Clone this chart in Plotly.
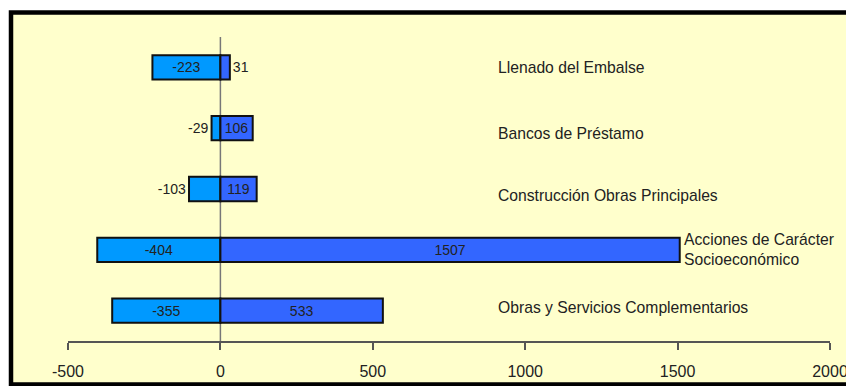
import plotly.graph_objects as go

# Project components (top to bottom) and their negative / positive impact values
categories = [
    "Llenado del Embalse",
    "Bancos de Préstamo",
    "Construcción Obras Principales",
    "Acciones de Carácter<br>Socioeconómico",
    "Obras y Servicios Complementarios",
]
negative = [-223, -29, -103, -404, -355]
positive = [31, 106, 119, 1507, 533]

tick_values = [-500, 0, 500, 1000, 1500, 2000]
tick_labels = ["-500", "0", "500", "1000", "1500", "2000"]

neg_textpos = ["inside", "outside", "outside", "inside", "inside"]
pos_textpos = ["outside", "inside", "inside", "inside", "inside"]
label_shift = [0, -5, -6, 0, 3]

FONT = "Liberation Sans, Arial, sans-serif"
W, H = 846, 386
ML, MR, MT, MB = 68, 16, 37, 45
PW, PH = W - ML - MR, H - MT - MB


def px_x(px):
    return (px - ML) / PW


def px_y(py):
    return (H - MB - py) / PH


fig = go.Figure()
fig.add_trace(go.Bar(
    y=categories, x=negative, orientation="h",
    marker=dict(color="#0099FF", line=dict(color="#111111", width=2)),
    text=[str(v) for v in negative], textposition=neg_textpos,
    insidetextanchor="middle", constraintext="none", cliponaxis=False,
    textfont=dict(family=FONT, size=14, color="#222222"),
    hoverinfo="x+y",
))
fig.add_trace(go.Bar(
    y=categories, x=positive, orientation="h",
    marker=dict(color="#3366FF", line=dict(color="#111111", width=2)),
    text=[str(v) for v in positive], textposition=pos_textpos,
    insidetextanchor="middle", constraintext="none", cliponaxis=False,
    textfont=dict(family=FONT, size=14, color="#222222"),
    hoverinfo="x+y",
))

# Category names written to the right of the bars
annotations = []
for i, cat in enumerate(categories):
    if "<br>" in cat:
        annotations.append(dict(x=positive[i], y=cat, text=cat, showarrow=False,
                                xanchor="left", xshift=2, align="left",
                                font=dict(family=FONT, size=15.7, color="#222222")))
    else:
        annotations.append(dict(x=905, y=cat, text=cat, showarrow=False,
                                xanchor="left", yshift=label_shift[i],
                                font=dict(family=FONT, size=15.7, color="#222222")))

# Yellow panel with a heavy black frame
shapes = [
    dict(type="rect", xref="paper", yref="paper", layer="below",
         x0=px_x(11), x1=px_x(870), y0=px_y(384.5), y1=px_y(12.5),
         fillcolor="#FFFFCC", line=dict(color="#000000", width=4.5)),
    dict(type="line", xref="x", yref="paper", x0=0, x1=0, y0=0, y1=1,
         line=dict(color="#777777", width=1.5), layer="below"),
]

fig.update_layout(
    width=W, height=H,
    margin=dict(l=ML, r=MR, t=MT, b=MB, autoexpand=False),
    paper_bgcolor="#FFFFFF", plot_bgcolor="rgba(0,0,0,0)",
    barmode="relative", bargap=0.6, showlegend=False,
    font=dict(family=FONT, size=15, color="#222222"),
    annotations=annotations, shapes=shapes,
    xaxis=dict(range=[-500, 2000], tickvals=tick_values, ticktext=tick_labels,
               ticklabeloverflow="allow", automargin=False, ticklabelstandoff=8,
               showgrid=False, zeroline=False, showline=True, linecolor="#555555",
               linewidth=1.5, ticks="outside", ticklen=7, tickcolor="#555555",
               tickwidth=1.5, tickfont=dict(family=FONT, size=16, color="#222222")),
    yaxis=dict(autorange="reversed", showticklabels=False, showgrid=False,
               zeroline=False, showline=False, ticks="", automargin=False),
)

fig.write_html("out.html")
